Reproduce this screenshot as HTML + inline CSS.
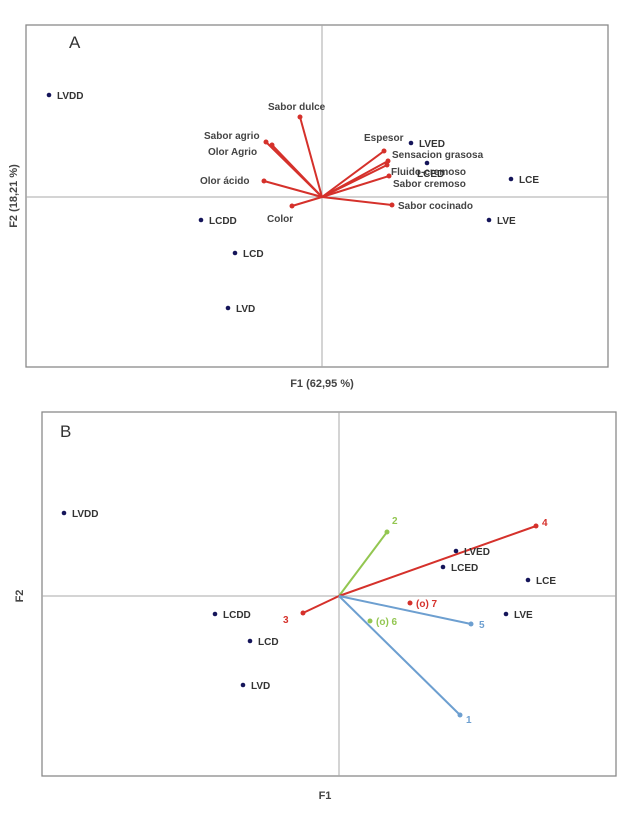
<!DOCTYPE html>
<html><head><meta charset="utf-8">
<style>
body{margin:0;background:#fff;width:630px;height:812px;overflow:hidden;font-family:"Liberation Sans",sans-serif}
svg text{font-family:"Liberation Sans",sans-serif}
</style></head>
<body>
<svg id="chart" width="630" height="812" viewBox="0 0 630 812"></svg>
<script>
// Panel A data
const aObsNames=["LVDD","LVED","LCED","LCE","LVE","LCDD","LCD","LVD"];
const aObsX=[-2.73,0.89,1.05,1.89,1.67,-1.21,-0.87,-0.94];
const aObsY=[1.02,0.54,0.34,0.18,-0.23,-0.23,-0.56,-1.11];
const aVarNames=["Sabor dulce","Sabor agrio","Olor Agrio","Olor ácido","Color","Espesor","Sensacion grasosa","Fluido-cremoso","Sabor cremoso","Sabor cocinado"];
const aVarX=[-0.22,-0.56,-0.50,-0.58,-0.30,0.62,0.66,0.65,0.67,0.70];
const aVarY=[0.80,0.55,0.52,0.16,-0.09,0.46,0.36,0.32,0.21,-0.08];
// Panel B data
const bObsNames=["LVDD","LVED","LCED","LCE","LVE","LCDD","LCD","LVD"];
const bObsX=[-2.75,1.17,1.04,1.89,1.67,-1.24,-0.89,-0.96];
const bObsY=[0.83,0.45,0.29,0.16,-0.18,-0.18,-0.45,-0.89];
const bVecNames=["2","4","3","5","1"];
const bVecX=[0.48,1.97,-0.36,1.32,1.21];
const bVecY=[0.64,0.70,-0.17,-0.28,-1.19];
const bVecColors=["#93c651","#d5312b","#d5312b","#6d9fd0","#6d9fd0"];
const bSupNames=["(o) 7","(o) 6"];
const bSupX=[0.71,0.31];
const bSupY=[-0.07,-0.25];
const bSupColors=["#d5312b","#93c651"];

const NS="http://www.w3.org/2000/svg";
const svg=document.getElementById('chart');
function el(tag,attrs,parent){const e=document.createElementNS(NS,tag);for(const k in attrs)e.setAttribute(k,attrs[k]);(parent||svg).appendChild(e);return e;}
function txt(s,x,y,attrs){const t=el('text',Object.assign({x:x,y:y},attrs));t.textContent=s;return t;}

const A={ox:322,oy:197,k:100,box:[26,25,608,367]};
const B={ox:339,oy:596,k:100,box:[42,412,616,776]};
const sx=(P,v)=>P.ox+v*P.k, sy=(P,v)=>P.oy-v*P.k;

function frame(P,name){
  const [x1,y1,x2,y2]=P.box;
  const r=el('rect',{x:x1,y:y1,width:x2-x1,height:y2-y1,fill:'none',stroke:'#8a8a8a','stroke-width':1.3});
  
  const h=el('line',{x1:x1,x2:x2,y1:P.oy,y2:P.oy,stroke:'#aaa','stroke-width':1});
  
  const v=el('line',{x1:P.ox,x2:P.ox,y1:y1,y2:y2,stroke:'#aaa','stroke-width':1});
  
}
function obs(P,names,xs,ys,prefix,special){
  names.forEach((n,i)=>{
    const g=el('g',{});
    
    
    el('circle',{cx:sx(P,xs[i]),cy:sy(P,ys[i]),r:2.3,fill:'#15155a'},g);
    const off=(special&&special[n])||[8,4];
    const t=el('text',{x:sx(P,xs[i])+off[0],y:sy(P,ys[i])+off[1],'font-size':10,'font-weight':'bold',fill:'#333'},g);t.textContent=n;
  });
}

// Panel A
frame(A,'panel-a');
const aOff={"Sabor dulce":[-32,-7],"Sabor agrio":[-62,-3],"Olor Agrio":[-64,10],"Olor ácido":[-64,3],"Color":[-25,16],"Espesor":[-20,-10],"Sensacion grasosa":[4,-3],"Fluido-cremoso":[4,10],"Sabor cremoso":[4,11],"Sabor cocinado":[6,4]};
aVarNames.forEach((n,i)=>{
  const g=el('g',{});
  
  
  const x=sx(A,aVarX[i]),y=sy(A,aVarY[i]);
  el('line',{x1:A.ox,y1:A.oy,x2:x,y2:y,stroke:'#d5312b','stroke-width':2},g);
  el('circle',{cx:x,cy:y,r:2.5,fill:'#d5312b'},g);
  const t=el('text',{x:x+aOff[n][0],y:y+aOff[n][1],'font-size':10,'font-weight':'bold',fill:'#444'},g);t.textContent=n;
});
obs(A,aObsNames,aObsX,aObsY,'panel-a',{"LCED":[-10,14]});
let t;
t=txt('A',69,48,{'font-size':17,fill:'#333'});
t=txt('F1 (62,95 %)',322,387,{'font-size':11,'font-weight':'bold',fill:'#444','text-anchor':'middle'});
t=txt('F2 (18,21 %)',0,0,{'font-size':11,'font-weight':'bold',fill:'#444','text-anchor':'middle',transform:'translate(17,196) rotate(-90)'});

// Panel B
frame(B,'panel-b');
const bOff={"2":[5,-8],"4":[6,0],"3":[-20,10],"5":[8,4],"1":[6,8]};
bVecNames.forEach((n,i)=>{
  const g=el('g',{});
  
  
  const x=sx(B,bVecX[i]),y=sy(B,bVecY[i]);
  el('line',{x1:B.ox,y1:B.oy,x2:x,y2:y,stroke:bVecColors[i],'stroke-width':2},g);
  el('circle',{cx:x,cy:y,r:2.5,fill:bVecColors[i]},g);
  const tt=el('text',{x:x+bOff[n][0],y:y+bOff[n][1],'font-size':10,'font-weight':'bold',fill:bVecColors[i]},g);tt.textContent=n;
});
bSupNames.forEach((n,i)=>{
  const g=el('g',{});
  
  
  const x=sx(B,bSupX[i]),y=sy(B,bSupY[i]);
  el('circle',{cx:x,cy:y,r:2.5,fill:bSupColors[i]},g);
  const tt=el('text',{x:x+6,y:y+4,'font-size':10,'font-weight':'bold',fill:bSupColors[i]},g);tt.textContent=n;
});
obs(B,bObsNames,bObsX,bObsY,'panel-b');
t=txt('B',60,437,{'font-size':17,fill:'#333'});
t=txt('F1',325,799,{'font-size':11,'font-weight':'bold',fill:'#444','text-anchor':'middle'});
t=txt('F2',0,0,{'font-size':11,'font-weight':'bold',fill:'#444','text-anchor':'middle',transform:'translate(23,596) rotate(-90)'});
</script>
</body></html>
